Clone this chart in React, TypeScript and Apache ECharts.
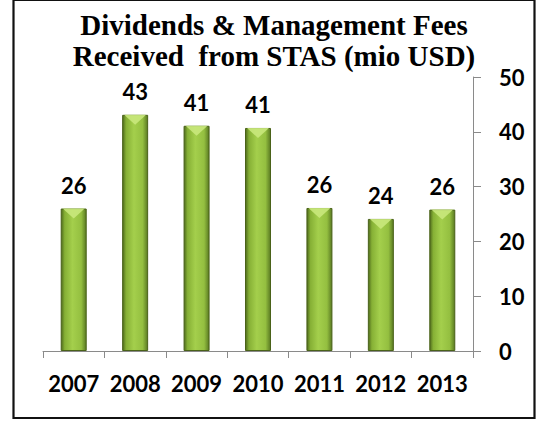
import React, { useEffect, useRef } from "react";
import * as echarts from "echarts";

const categories = ["2007", "2008", "2009", "2010", "2011", "2012", "2013"];
const values = [26.0, 43.1, 41.1, 40.7, 26.1, 24.1, 25.8];
const titleLines = ["Dividends & Management Fees", "Received  from STAS (mio USD)"];
const yMin = 0;
const yMax = 50;
const yInterval = 10;

const labelFont = "Lato, 'Open Sans', sans-serif";

export default function App() {
  const ref = useRef<HTMLDivElement>(null);
  useEffect(() => {
    if (!ref.current) return;
    const chart = echarts.init(ref.current, null, { renderer: "svg" });
    const barGrad = new echarts.graphic.LinearGradient(0, 0, 1, 0, [
      { offset: 0, color: "#4f6b1c" },
      { offset: 0.14, color: "#86b035" },
      { offset: 0.45, color: "#a4cf4c" },
      { offset: 0.8, color: "#94bf40" },
      { offset: 1, color: "#5a7a22" },
    ]);
    chart.setOption({
      animation: false,
      backgroundColor: "#ffffff",
      grid: { left: 43, right: 65, top: 77, bottom: 70, containLabel: false },
      graphic: [
        {
          type: "rect",
          shape: { x: 13.5, y: 0, width: 521, height: 418 },
          style: { fill: "none", stroke: "#111", lineWidth: 2.2 },
          z: 100,
        },
        {
          type: "line",
          shape: { x1: 473, y1: 351.5, x2: 479, y2: 351.5 },
          style: { stroke: "#8a8a8a", lineWidth: 1 },
        },
        {
          type: "text",
          x: 274,
          y: 9,
          style: {
            text: titleLines.join("\n"),
            align: "center",
            verticalAlign: "top",
            fontFamily: "'Liberation Serif', serif",
            fontWeight: "bold",
            fontSize: 29,
            lineHeight: 31,
            fill: "#000",
          },
        },
      ],
      xAxis: {
        type: "category",
        data: categories,
        axisLine: { show: true, lineStyle: { color: "#8a8a8a", width: 1 } },
        axisTick: { show: true, length: 7, alignWithLabel: false, lineStyle: { color: "#8a8a8a" } },
        axisLabel: {
          interval: 0,
          color: "#000",
          fontFamily: labelFont,
          fontWeight: "bold",
          fontSize: 22,
          margin: 21,
        },
      },
      yAxis: {
        type: "value",
        position: "right",
        min: yMin,
        max: yMax,
        interval: yInterval,
        splitLine: { show: false },
        axisLine: { show: true, lineStyle: { color: "#8a8a8a", width: 1 } },
        axisTick: { show: true, length: 8, lineStyle: { color: "#8a8a8a" } },
        axisLabel: {
          color: "#000",
          fontFamily: labelFont,
          fontWeight: "bold",
          fontSize: 22,
          margin: 26,
        },
      },
      series: [
        {
          type: "bar",
          data: values,
          barWidth: 26,
          itemStyle: { color: barGrad, borderColor: "#4a6219", borderWidth: 1 },
          label: {
            show: true,
            position: "top",
            distance: 12,
            formatter: (p: any) => String(Math.round(p.value)),
            color: "#000",
            fontFamily: labelFont,
            fontWeight: "bold",
            fontSize: 22,
          },
          z: 2,
        },
        {
          type: "pictorialBar",
          data: values,
          symbol: "triangle",
          symbolRotate: 180,
          symbolSize: [22, 10],
          symbolPosition: "end",
          symbolOffset: [0, 0],
          itemStyle: { color: "#c9e87c", opacity: 0.9 },
          silent: true,
          z: 3,
        },
      ],
    });
    return () => chart.dispose();
  }, []);
  return (
    <div
      ref={ref}
      style={{ position: "absolute", left: 0, top: 0, width: 538, height: 421 }}
    />
  );
}
